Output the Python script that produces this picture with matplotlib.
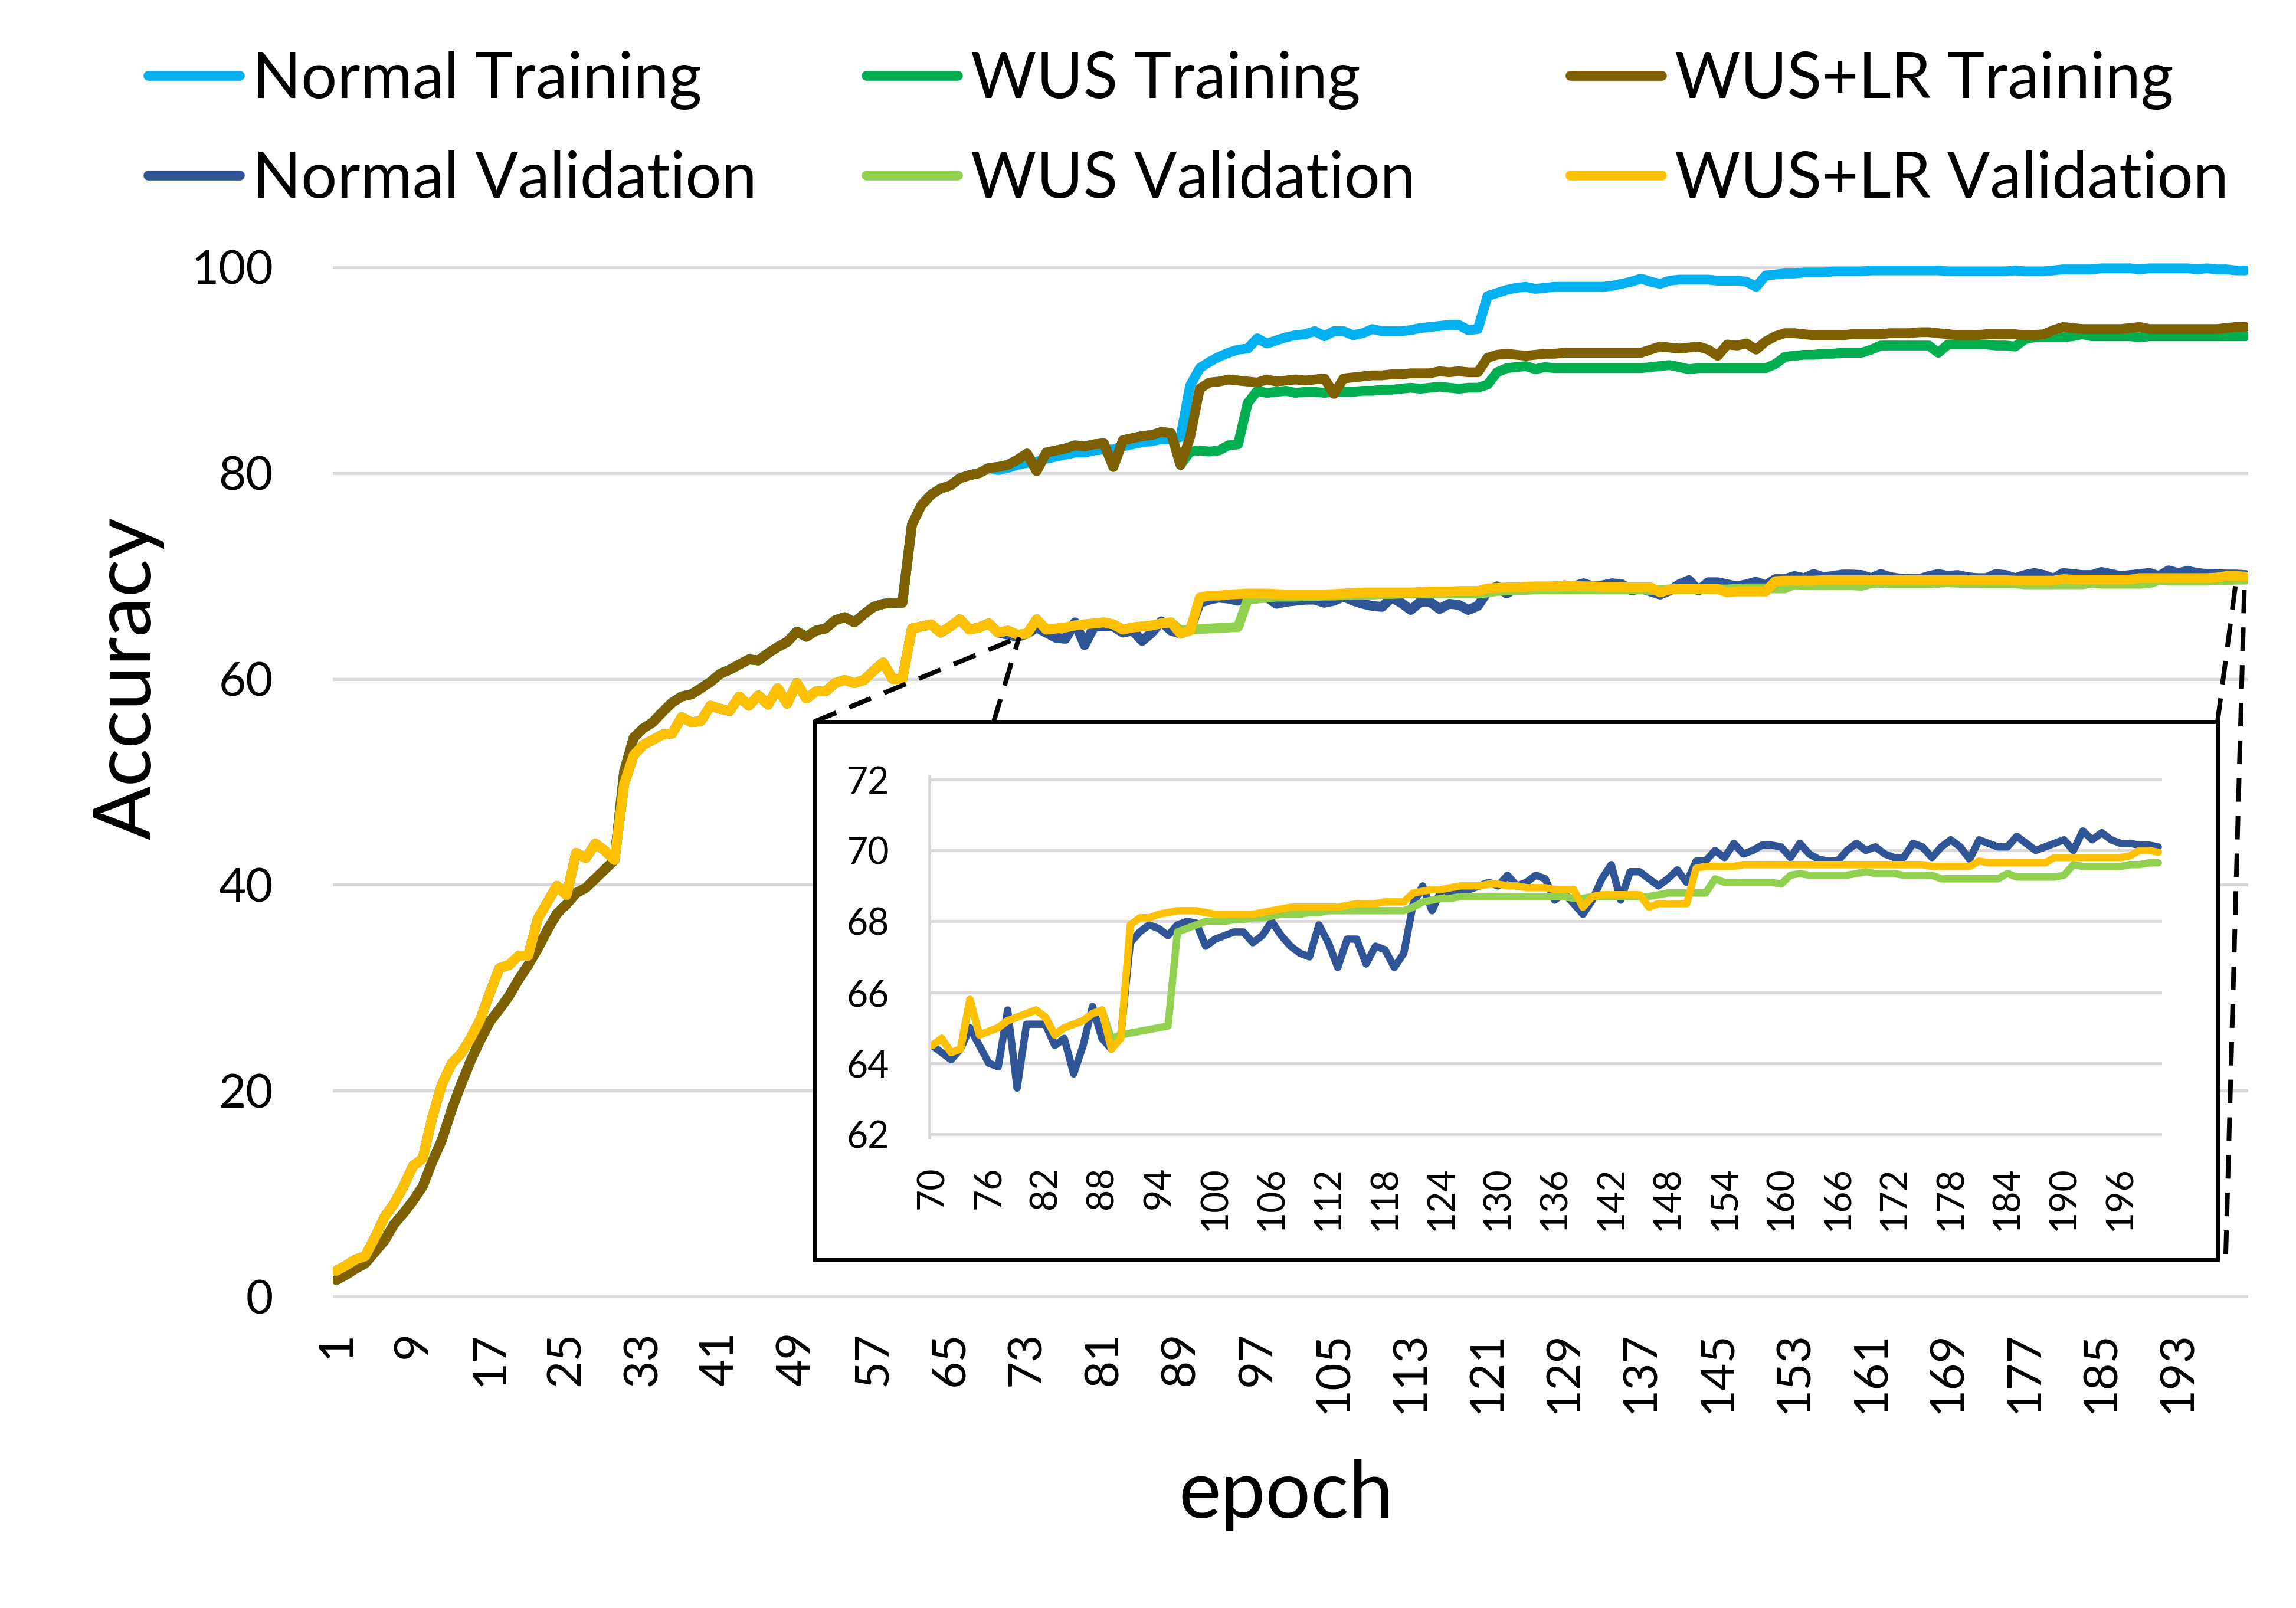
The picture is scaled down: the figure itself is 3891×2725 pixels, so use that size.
import numpy as np
import matplotlib
matplotlib.use('Agg')
import matplotlib.pyplot as plt
from matplotlib.lines import Line2D
from matplotlib.patches import Rectangle

plt.rcParams['font.family'] = ['Lato', 'DejaVu Sans']

# accuracy per epoch (1..200)
wuslr_train = [
    1.6, 2.1, 2.7, 3.2, 4.3, 5.4, 7.0, 8.1, 9.3, 10.7,
    13.1, 15.2, 18.1, 20.6, 22.9, 24.9, 26.7, 27.9, 29.2, 30.8,
    32.2, 33.8, 35.6, 37.2, 38.1, 39.2, 39.7, 40.6, 41.5, 42.4,
    51.0, 54.3, 55.2, 55.8, 56.8, 57.7, 58.3, 58.5, 59.1, 59.7,
    60.5, 60.9, 61.4, 61.9, 61.8, 62.5, 63.1, 63.6, 64.6, 64.1,
    64.7, 64.9, 65.7, 66.0, 65.5, 66.3, 67.0, 67.3, 67.4, 67.4,
    75.0, 76.9, 77.9, 78.5, 78.8, 79.5, 79.8, 80.0, 80.5, 80.6,
    80.8, 81.3, 81.9, 80.2, 82.0, 82.2, 82.4, 82.7, 82.6, 82.8,
    82.9, 80.6, 83.2, 83.4, 83.6, 83.7, 84.0, 83.9, 80.8, 83.5,
    88.2, 88.8, 88.9, 89.1, 89.0, 88.9, 88.8, 89.1, 88.9, 89.0,
    89.1, 89.0, 89.1, 89.2, 87.7, 89.2, 89.3, 89.4, 89.5, 89.5,
    89.6, 89.6, 89.7, 89.7, 89.7, 89.9, 89.8, 89.9, 89.8, 89.8,
    91.2, 91.5, 91.6, 91.5, 91.4, 91.5, 91.6, 91.6, 91.7, 91.7,
    91.7, 91.7, 91.7, 91.7, 91.7, 91.7, 91.7, 92.0, 92.3, 92.2,
    92.1, 92.2, 92.3, 92.0, 91.4, 92.5, 92.4, 92.6, 92.0, 92.8,
    93.3, 93.6, 93.6, 93.5, 93.4, 93.4, 93.4, 93.4, 93.5, 93.5,
    93.5, 93.5, 93.6, 93.6, 93.6, 93.7, 93.7, 93.6, 93.5, 93.4,
    93.4, 93.4, 93.5, 93.5, 93.5, 93.5, 93.4, 93.4, 93.5, 93.9,
    94.2, 94.1, 94.0, 94.0, 94.0, 94.0, 94.0, 94.1, 94.2, 94.0,
    94.0, 94.0, 94.0, 94.0, 94.0, 94.0, 94.0, 94.1, 94.2, 94.2,
]

# normal training follows the others up to epoch 69
normal_train_tail = [
    80.3, 80.5, 80.8, 81.0, 81.1, 81.4, 81.6, 81.8, 82.0, 82.0, 82.2,
    82.3, 82.3, 82.6, 82.8, 83.0, 83.1, 83.3, 83.3, 83.5, 88.5,
    90.2, 90.8, 91.3, 91.7, 92.0, 92.1, 93.1, 92.6, 92.9, 93.2,
    93.4, 93.5, 93.8, 93.3, 93.8, 93.8, 93.4, 93.6, 94.0, 93.8,
    93.8, 93.8, 93.9, 94.1, 94.2, 94.3, 94.4, 94.4, 93.9, 94.0,
    97.2, 97.5, 97.8, 98.0, 98.1, 97.9, 98.0, 98.1, 98.1, 98.1,
    98.1, 98.1, 98.1, 98.2, 98.4, 98.6, 98.9, 98.6, 98.4, 98.7,
    98.8, 98.8, 98.8, 98.8, 98.7, 98.7, 98.7, 98.6, 98.1, 99.2,
    99.3, 99.4, 99.4, 99.5, 99.5, 99.5, 99.6, 99.6, 99.6, 99.6,
    99.7, 99.7, 99.7, 99.7, 99.7, 99.7, 99.7, 99.7, 99.6, 99.6,
    99.6, 99.6, 99.6, 99.6, 99.6, 99.7, 99.6, 99.6, 99.6, 99.7,
    99.8, 99.8, 99.8, 99.8, 99.9, 99.9, 99.9, 99.9, 99.8, 99.9,
    99.9, 99.9, 99.9, 99.9, 99.8, 99.9, 99.8, 99.8, 99.7, 99.7,
]

# WUS training follows WUS+LR up to epoch 89
wus_train_tail = [
    82.1, 82.2, 82.1, 82.2, 82.7, 82.8, 86.8, 88.0, 87.8, 87.9, 88.0,
    87.8, 87.9, 87.9, 87.8, 87.9, 87.9, 87.9, 88.0, 88.0, 88.1,
    88.1, 88.2, 88.3, 88.2, 88.3, 88.4, 88.3, 88.2, 88.3, 88.3,
    88.6, 89.8, 90.2, 90.3, 90.4, 90.1, 90.3, 90.2, 90.2, 90.2,
    90.2, 90.2, 90.2, 90.2, 90.2, 90.2, 90.2, 90.3, 90.4, 90.5,
    90.3, 90.1, 90.2, 90.2, 90.2, 90.2, 90.2, 90.2, 90.2, 90.2,
    90.6, 91.3, 91.4, 91.5, 91.5, 91.6, 91.6, 91.7, 91.7, 91.7,
    92.0, 92.4, 92.4, 92.4, 92.4, 92.4, 92.4, 91.7, 92.5, 92.5,
    92.5, 92.5, 92.5, 92.4, 92.4, 92.3, 93.0, 93.2, 93.2, 93.2,
    93.2, 93.3, 93.5, 93.3, 93.3, 93.3, 93.3, 93.3, 93.2, 93.3,
    93.3, 93.3, 93.3, 93.3, 93.3, 93.3, 93.3, 93.3, 93.3, 93.3,
]

wuslr_val = [
    2.5, 3.0, 3.6, 3.9, 5.7, 7.7, 9.0, 10.7, 12.7, 13.4,
    17.4, 20.6, 22.6, 23.6, 25.1, 26.9, 29.5, 31.9, 32.2, 33.1,
    33.1, 36.7, 38.3, 39.9, 39.0, 43.1, 42.6, 44.0, 43.3, 42.4,
    49.8, 52.6, 53.6, 54.1, 54.6, 54.7, 56.3, 55.8, 55.9, 57.4,
    57.1, 56.9, 58.3, 57.4, 58.4, 57.5, 59.1, 57.6, 59.6, 58.1,
    58.8, 58.8, 59.6, 59.9, 59.6, 59.9, 60.8, 61.6, 60.0, 60.0,
    64.9, 65.1, 65.3, 64.5, 65.1, 65.8, 64.8, 65.0, 65.4, 64.5,
    64.7, 64.3, 64.4, 65.8, 64.8, 64.9, 65.0, 65.2, 65.3, 65.4,
    65.5, 65.3, 64.8, 65.0, 65.1, 65.2, 65.4, 65.5, 64.4, 64.7,
    67.9, 68.1, 68.1, 68.2, 68.25, 68.3, 68.3, 68.3, 68.25, 68.2,
    68.2, 68.2, 68.2, 68.2, 68.25, 68.3, 68.35, 68.4, 68.4, 68.4,
    68.4, 68.4, 68.4, 68.45, 68.5, 68.5, 68.5, 68.55, 68.55, 68.55,
    68.8, 68.85, 68.9, 68.9, 68.95, 69.0, 69.0, 69.0, 69.05, 69.05,
    69.0, 69.0, 68.95, 68.95, 68.95, 68.9, 68.9, 68.9, 68.4, 68.7,
    68.75, 68.75, 68.75, 68.75, 68.75, 68.4, 68.5, 68.5, 68.5, 68.5,
    69.5, 69.55, 69.55, 69.55, 69.55, 69.6, 69.6, 69.6, 69.6, 69.6,
    69.6, 69.6, 69.6, 69.6, 69.6, 69.6, 69.6, 69.6, 69.6, 69.6,
    69.6, 69.6, 69.6, 69.6, 69.6, 69.55, 69.55, 69.55, 69.55, 69.55,
    69.7, 69.65, 69.65, 69.65, 69.65, 69.65, 69.65, 69.65, 69.8, 69.8,
    69.8, 69.8, 69.8, 69.8, 69.8, 69.8, 69.85, 70.0, 70.0, 69.95,
]

# normal validation follows WUS+LR up to epoch 70
normal_val_tail = [
    64.3, 64.1, 64.4, 65.0, 64.5, 64.0, 63.9, 65.5, 63.3, 65.1,
    65.1, 65.1, 64.5, 64.7, 63.7, 64.5, 65.6, 64.7, 64.4, 64.8,
    67.4, 67.7, 67.9, 67.8, 67.6, 67.9, 68.0, 67.95, 67.3, 67.5,
    67.6, 67.7, 67.7, 67.4, 67.6, 68.0, 67.6, 67.3, 67.1, 67.0,
    67.9, 67.4, 66.7, 67.5, 67.5, 66.8, 67.3, 67.2, 66.7, 67.1,
    68.5, 69.0, 68.3, 68.9, 68.8, 68.9, 68.9, 69.0, 69.1, 69.0,
    69.3, 69.0, 69.1, 69.3, 69.2, 68.6, 68.8, 68.5, 68.2, 68.6,
    69.2, 69.6, 68.6, 69.4, 69.4, 69.2, 69.0, 69.2, 69.45, 69.1,
    69.7, 69.7, 70.0, 69.8, 70.2, 69.9, 70.0, 70.15, 70.15, 70.1,
    69.8, 70.2, 69.9, 69.75, 69.7, 69.7, 70.0, 70.2, 70.0, 70.1,
    69.9, 69.8, 69.8, 70.2, 70.1, 69.8, 70.1, 70.3, 70.1, 69.75,
    70.3, 70.2, 70.1, 70.1, 70.4, 70.2, 70.0, 70.1, 70.2, 70.3,
    70.0, 70.55, 70.3, 70.5, 70.3, 70.2, 70.2, 70.15, 70.15, 70.1,
]

# WUS validation follows WUS+LR up to epoch 88
wus_val_tail = [
    64.7,
    64.8, 64.85, 64.9, 64.95, 65.0, 65.05, 67.7, 67.8, 67.9, 68.0, 68.0,
    68.0, 68.05, 68.05, 68.1, 68.1, 68.15, 68.2, 68.2, 68.2, 68.25,
    68.25, 68.3, 68.3, 68.3, 68.3, 68.3, 68.3, 68.3, 68.3, 68.3,
    68.4, 68.55, 68.6, 68.65, 68.65, 68.7, 68.7, 68.7, 68.7, 68.7,
    68.7, 68.7, 68.7, 68.7, 68.7, 68.7, 68.7, 68.65, 68.65, 68.7,
    68.7, 68.7, 68.7, 68.7, 68.7, 68.7, 68.75, 68.8, 68.8, 68.8,
    68.8, 68.8, 69.2, 69.1, 69.1, 69.1, 69.1, 69.1, 69.1, 69.05,
    69.3, 69.35, 69.3, 69.3, 69.3, 69.3, 69.3, 69.35, 69.4, 69.35,
    69.35, 69.35, 69.3, 69.3, 69.3, 69.3, 69.2, 69.2, 69.2, 69.2,
    69.2, 69.2, 69.2, 69.35, 69.25, 69.25, 69.25, 69.25, 69.25, 69.3,
    69.6, 69.55, 69.55, 69.55, 69.55, 69.55, 69.6, 69.6, 69.65, 69.65,
]

normal_train = wuslr_train[:69] + normal_train_tail
wus_train = wuslr_train[:89] + wus_train_tail
normal_val = wuslr_val[:70] + normal_val_tail
wus_val = wuslr_val[:88] + wus_val_tail

epochs = np.arange(1, 201)
zoom_from = 70

series = [
    ('Normal Training', normal_train, '#00B0F0'),
    ('WUS Training', wus_train, '#00B050'),
    ('WUS+LR Training', wuslr_train, '#7F6000'),
    ('Normal Validation', normal_val, '#2F5597'),
    ('WUS Validation', wus_val, '#92D050'),
    ('WUS+LR Validation', wuslr_val, '#FFC000'),
]

W, H, DPI = 3891, 2725, 250
fig = plt.figure(figsize=(W / DPI, H / DPI), dpi=DPI)


def fx(px):
    return px / W


def fy(py):
    return 1 - py / H


ax = fig.add_axes([fx(563.5), fy(2204), fx(3810) - fx(563.5), fy(446) - fy(2204)])
lines = {}
for name, vals, col in series:
    ln, = ax.plot(epochs, vals, color=col, lw=4.8, label=name,
                  solid_joinstyle='round', solid_capstyle='round')
    lines[name] = ln

ax.set_xlim(0.6, 200.3)
ax.set_ylim(-0.4, 100.4)
ax.set_yticks(range(0, 101, 20))
ax.set_xticks(epochs[::8])
ax.grid(axis='y', color='#D9D9D9', lw=1.5)
ax.set_axisbelow(True)
for s in ax.spines.values():
    s.set_visible(False)
ax.tick_params(length=0, labelsize=23)
ax.tick_params(axis='y', pad=29)
ax.tick_params(axis='x', pad=15, labelrotation=90)
ax.set_ylabel('Accuracy', fontsize=39)
ax.yaxis.set_label_coords(-0.0879, 0.600)
ax.set_xlabel('epoch', fontsize=39)
ax.xaxis.set_label_coords(0.4976, -0.1524)

# inset frame and connector lines
box = Rectangle((fx(1380), fy(2135)), fx(3758) - fx(1380), fy(1223) - fy(2135),
                transform=fig.transFigure, facecolor='white', edgecolor='black',
                lw=2.0, zorder=2)
fig.add_artist(box)
dash = (0, (5, 3))
for (x0, y0), (x1, y1) in [((1380, 1223), (1727, 1080)),
                           ((1684, 1223), (1727, 1080)),
                           ((3758, 1223), (3790, 980)),
                           ((3772, 2125), (3804, 980))]:
    fig.add_artist(Line2D([fx(x0), fx(x1)], [fy(y0), fy(y1)], transform=fig.transFigure,
                          color='black', lw=2.3, ls=dash, zorder=3))

axin = fig.add_axes([fx(1575), fy(1928), fx(3664) - fx(1575), fy(1315) - fy(1928)], zorder=4)
for name, vals, col in series[3:]:
    axin.plot(epochs[zoom_from - 1:], vals[zoom_from - 1:], color=col, lw=3.6,
              solid_joinstyle='round', solid_capstyle='round')
axin.set_xlim(69.7, 200.4)
axin.set_ylim(61.9, 72.1)
axin.set_yticks(range(62, 73, 2))
axin.set_xticks(range(70, 200, 6))
axin.grid(axis='y', color='#D9D9D9', lw=1.4)
axin.set_axisbelow(True)
for k, s in axin.spines.items():
    s.set_visible(k == 'left')
axin.spines['left'].set_color('#D9D9D9')
axin.spines['left'].set_linewidth(1.4)
axin.tick_params(length=0, labelsize=18)
axin.tick_params(axis='y', pad=19.5)
axin.tick_params(axis='x', pad=14, labelrotation=90)

# legend: three equal-width columns like the original
for x0, (tr, va) in zip([251, 1468, 2661],
                        [('Normal Training', 'Normal Validation'),
                         ('WUS Training', 'WUS Validation'),
                         ('WUS+LR Training', 'WUS+LR Validation')]):
    fig.legend(handles=[lines[tr], lines[va]], labels=[tr, va], loc='center left',
               bbox_to_anchor=(fx(x0), fy(220)), frameon=False, fontsize=31,
               handlelength=1.44, handletextpad=0.2, labelspacing=0.64,
               borderpad=0, borderaxespad=0)

fig.savefig('out.png', dpi=DPI)
